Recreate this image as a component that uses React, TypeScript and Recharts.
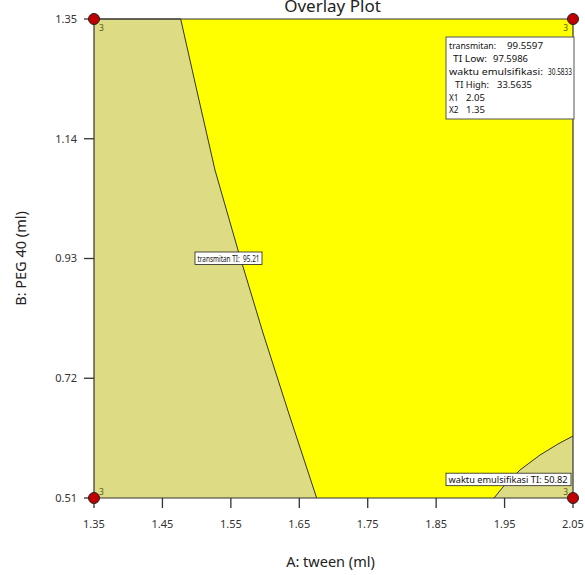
import React from 'react';
import {
  ComposedChart,
  Area,
  XAxis,
  YAxis,
  Scatter,
  ReferenceLine,
  ReferenceDot,
  CartesianGrid,
  Label,
} from 'recharts';

// ---------- data ----------
const xTicks = [1.35, 1.45, 1.55, 1.65, 1.75, 1.85, 1.95, 2.05];
const yTicks = [0.51, 0.72, 0.93, 1.14, 1.35];

// transmitan TI: 95.21 contour (left region is out of spec)
const transmitanBoundary = [
  { a: 1.35, b: 1.35 },
  { a: 1.4767, b: 1.35 },
  { a: 1.5001, b: 1.2255 },
  { a: 1.5268, b: 1.0852 },
  { a: 1.5604, b: 0.9449 },
  { a: 1.597, b: 0.7993 },
  { a: 1.6364, b: 0.652 },
  { a: 1.6754, b: 0.51 },
];

// waktu emulsifikasi TI: 50.82 contour (bottom-right region)
const waktuBoundary = [
  { a: 1.9346, b: 0.51 },
  { a: 1.9477, b: 0.5293 },
  { a: 1.9725, b: 0.5591 },
  { a: 2.0018, b: 0.5854 },
  { a: 2.0281, b: 0.6047 },
  { a: 2.05, b: 0.6187 },
];

const designPoints = [
  { a: 1.35, b: 1.35, n: 3 },
  { a: 1.35, b: 0.51, n: 3 },
  { a: 2.05, b: 0.51, n: 3 },
  { a: 2.05, b: 1.35, n: 3 },
];

const contourLabels = [
  { a: 1.4976, b: 0.93, text: 'transmitan TI:  95.21' },
  { a: 1.8644, b: 0.5421, text: 'waktu emulsifikasi TI: 50.82' },
];

const flagLabels = ['transmitan:', 'TI Low:', 'waktu emulsifikasi:', 'TI High:', 'X1', 'X2'];
const flagValues = ['99.5597', '97.5986', '30.5833', '33.5635', '2.05', '1.35'];
const flagPoint = { a: 2.05, b: 1.35 };

const regionData = [
  ...transmitanBoundary.map((p) => ({ a: p.a, left: p.b })),
  ...waktuBoundary.map((p) => ({ a: p.a, right: p.b })),
];

// tick mark anchors on the axes (drawn through the chart scales)
const xTickMarks = xTicks.map((v) => ({ a: v, b: yTicks[0] }));
const yTickMarks = yTicks.map((v) => ({ a: xTicks[0], b: v }));

// ---------- styles ----------
const FONT = '"Noto Sans", "Open Sans", sans-serif';
const KHAKI = '#DDDC84';
const YELLOW = '#FFFF00';
const AXIS = '#333333';
const TICK_LEN = 10;

const contourBoxW = [67, 125];
const contourTextW = [62, 119];

const flagLabelDx = [-124, -120, -124, -118, -124, -124];
const flagLabelW = [47, 34, 94, 34, 9.5, 9.5];
const flagValueDx = [-66, -80, -25, -76, -107, -107];
const flagValueW = [36, 35, 24, 35, 19, 19];
const flagDy = [29.5, 43, 56, 69, 82, 93.5];

const XTickMark = (props: any) => {
  const { cx, cy } = props;
  return <line x1={cx} x2={cx} y1={cy} y2={cy + TICK_LEN} stroke={AXIS} strokeWidth={1.3} />;
};

const YTickMark = (props: any) => {
  const { cx, cy } = props;
  return <line x1={cx - TICK_LEN} x2={cx} y1={cy} y2={cy} stroke={AXIS} strokeWidth={1.3} />;
};

const DesignPoint = (props: any) => {
  const { cx, cy, payload } = props;
  const right = payload.a <= xTicks[0];
  const top = payload.b >= yTicks[yTicks.length - 1];
  return (
    <g>
      <circle cx={cx} cy={cy} r={5.5} fill="#C00000" stroke="#222" strokeWidth={1} />
      <text
        x={cx + (right ? 5 : -5)}
        y={cy + (top ? 12 : -3)}
        textAnchor={right ? 'start' : 'end'}
        fontSize={8.5}
        fontFamily={FONT}
        fill="#5a5a20"
      >
        {payload.n}
      </text>
    </g>
  );
};

const makeContourLabel = (text: string, w: number, tw: number) => (props: any) => {
  const { cx, cy } = props;
  return (
    <g>
      <rect x={cx} y={cy - 6.5} width={w} height={12.5} fill="#fff" stroke="#222" strokeWidth={0.8} />
      <text
        x={cx + 2.5}
        y={cy + 3.3}
        fontSize={9}
        fontFamily={FONT}
        fill="#111"
        textLength={tw}
        lengthAdjust="spacingAndGlyphs"
        style={{ whiteSpace: 'pre' }}
      >
        {text}
      </text>
    </g>
  );
};

const FlagBox = (props: any) => {
  const { cx, cy } = props;
  return (
    <g>
      <rect x={cx - 127} y={cy + 18} width={128} height={82} fill="#fff" stroke="#555" strokeWidth={1} />
      {flagLabels.map((l, i) => (
        <text
          key={'l' + i}
          x={cx + flagLabelDx[i]}
          y={cy + flagDy[i]}
          fontSize={9.3}
          fontFamily={FONT}
          fill="#111"
          textLength={flagLabelW[i]}
          lengthAdjust="spacingAndGlyphs"
        >
          {l}
        </text>
      ))}
      {flagValues.map((v, i) => (
        <text
          key={'v' + i}
          x={cx + flagValueDx[i]}
          y={cy + flagDy[i]}
          fontSize={9.3}
          fontFamily={FONT}
          fill="#111"
          textLength={flagValueW[i]}
          lengthAdjust="spacingAndGlyphs"
        >
          {v}
        </text>
      ))}
    </g>
  );
};

const YLabel = (props: any) => {
  const vb = props.viewBox || { x: 0, y: 19, width: 94, height: 479 };
  const x = vb.x + 20;
  const y = vb.y + vb.height / 2;
  return (
    <text
      x={x}
      y={y}
      transform={`rotate(-90 ${x} ${y})`}
      textAnchor="middle"
      dominantBaseline="central"
      fontSize={14.5}
      fontFamily={FONT}
      fill="#222"
    >
      B: PEG 40 (ml)
    </text>
  );
};

const XLabel = (props: any) => {
  const vb = props.viewBox || { x: 94, y: 498, width: 479, height: 60 };
  return (
    <text
      x={vb.x + vb.width / 2 - 3}
      y={vb.y + 63}
      textAnchor="middle"
      dominantBaseline="central"
      fontSize={14.5}
      fontFamily={FONT}
      fill="#222"
    >
      A: tween (ml)
    </text>
  );
};

export default function App() {
  return (
    <div style={{ position: 'absolute', left: 0, top: 0, width: 585, height: 575, background: '#fff' }}>
      <div
        style={{
          position: 'absolute',
          left: 0,
          width: 585,
          top: -6,
          textAlign: 'center',
          fontFamily: FONT,
          fontSize: 17,
          color: '#222',
          lineHeight: '24px',
          paddingLeft: 80,
          boxSizing: 'border-box',
        }}
      >
        Overlay Plot
      </div>
      <ComposedChart
        width={585}
        height={575}
        data={regionData}
        margin={{ top: 19, right: 12, bottom: 17, left: 0 }}
        style={{ position: 'absolute', left: 0, top: 0 }}
      >
        <CartesianGrid horizontal={false} vertical={false} fill={YELLOW} fillOpacity={1} stroke="none" />
        <XAxis
          dataKey="a"
          type="number"
          domain={[1.35, 2.05]}
          ticks={xTicks}
          height={60}
          tickSize={10}
          tickMargin={12}
          tickLine={false}
          axisLine={{ stroke: AXIS, strokeWidth: 1.2 }}
          tickFormatter={(v: number) => v.toFixed(2)}
          tick={{ fontSize: 11, fontFamily: FONT, fill: '#333' }}
          interval={0}
        >
          <Label content={<XLabel />} />
        </XAxis>
        <YAxis
          type="number"
          domain={[0.51, 1.35]}
          ticks={yTicks}
          width={94}
          tickSize={10}
          tickMargin={7}
          tickLine={false}
          axisLine={{ stroke: AXIS, strokeWidth: 1.2 }}
          tickFormatter={(v: number) => v.toFixed(2)}
          tick={{ fontSize: 11, fontFamily: FONT, fill: '#333' }}
          interval={0}
        >
          <Label content={<YLabel />} />
        </YAxis>
        <Area
          dataKey="left"
          type="linear"
          baseValue={0.51}
          fill={KHAKI}
          fillOpacity={1}
          stroke="#333"
          strokeWidth={1}
          isAnimationActive={false}
          dot={false}
          activeDot={false}
        />
        <Area
          dataKey="right"
          type="linear"
          baseValue={0.51}
          fill={KHAKI}
          fillOpacity={1}
          stroke="#333"
          strokeWidth={1}
          isAnimationActive={false}
          dot={false}
          activeDot={false}
        />
        <ReferenceLine y={1.35} stroke={AXIS} strokeWidth={1.2} />
        <ReferenceLine x={2.05} stroke={AXIS} strokeWidth={1.2} />
        <Scatter data={xTickMarks} dataKey="b" shape={XTickMark} isAnimationActive={false} />
        <Scatter data={yTickMarks} dataKey="b" shape={YTickMark} isAnimationActive={false} />
        {contourLabels.map((c, i) => (
          <ReferenceDot
            key={i}
            x={c.a}
            y={c.b}
            r={0}
            shape={makeContourLabel(c.text, contourBoxW[i], contourTextW[i])}
          />
        ))}
        <ReferenceDot x={flagPoint.a} y={flagPoint.b} r={0} shape={FlagBox} />
        <Scatter data={designPoints} dataKey="b" shape={DesignPoint} isAnimationActive={false} />
      </ComposedChart>
    </div>
  );
}
